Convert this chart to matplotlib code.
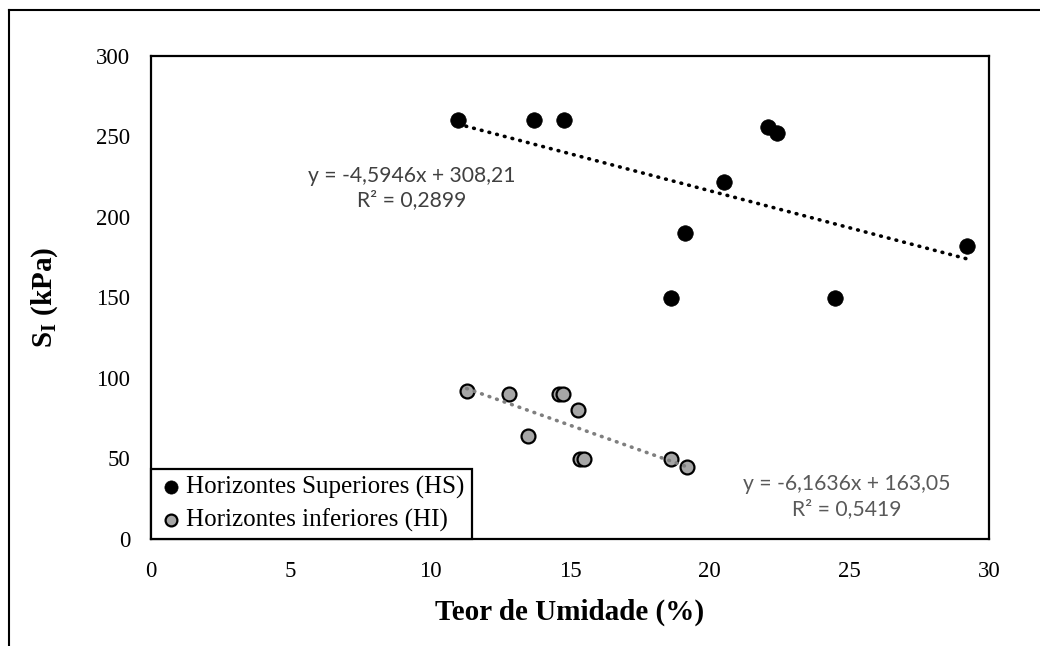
import numpy as np
import matplotlib
matplotlib.use("Agg")
import matplotlib.pyplot as plt
from matplotlib.lines import Line2D

# Horizontes Superiores (HS)
hs_umidade = [11.0, 13.7, 14.8, 22.1, 22.4, 20.5, 19.1, 18.6, 24.5, 29.2]
hs_si = [260, 260, 260, 256, 252, 222, 190, 150, 150, 182]

# Horizontes inferiores (HI)
hi_umidade = [11.3, 12.8, 14.6, 14.75, 15.3, 13.5, 15.35, 15.5, 18.6, 19.2]
hi_si = [92, 90, 90, 90, 80, 64, 50, 50, 50, 45]

x_ticks = [0, 5, 10, 15, 20, 25, 30]
y_ticks = [0, 50, 100, 150, 200, 250, 300]

eq_hs = "y = -4,5946x + 308,21\nR² = 0,2899"
eq_hi = "y = -6,1636x + 163,05\nR² = 0,5419"

serif = "Liberation Serif"
sans = ["Lato", "DejaVu Sans"]

plt.rcParams["mathtext.fontset"] = "custom"
plt.rcParams["mathtext.rm"] = serif
plt.rcParams["mathtext.bf"] = serif + ":bold"
plt.rcParams["mathtext.it"] = serif + ":italic"


def trend(ax, x, y, color):
    # linha de tendencia linear (minimos quadrados)
    a, b = np.polyfit(x, y, 1)
    xs = np.array([min(x), max(x)])
    ax.plot(xs, a * xs + b, linestyle=(0, (0.2, 2.0)), color=color,
            lw=2.6, dash_capstyle="round", zorder=4)


def main():
    fig = plt.figure(figsize=(10.4, 6.46), dpi=100)
    ax = fig.add_axes([151 / 1040, 1 - 539 / 646, 838 / 1040, 483 / 646])

    ax.scatter(hs_umidade, hs_si, s=125, c="black", edgecolors="black",
               linewidths=0.5, label="Horizontes Superiores (HS)", zorder=3)
    ax.scatter(hi_umidade, hi_si, s=100, c="#a6a6a6", edgecolors="black",
               linewidths=1.6, label="Horizontes inferiores (HI)", zorder=3)
    trend(ax, hs_umidade, hs_si, "black")
    trend(ax, hi_umidade, hi_si, "#7f7f7f")

    ax.set_xlim(0, 30)
    ax.set_ylim(0, 300)
    ax.set_xticks(x_ticks)
    ax.set_yticks(y_ticks)
    ax.tick_params(length=0, labelsize=16.5)
    ax.tick_params(axis="y", pad=15)
    ax.tick_params(axis="x", pad=16)
    for lab in ax.get_xticklabels() + ax.get_yticklabels():
        lab.set_fontfamily(serif)
    for sp in ax.spines.values():
        sp.set_linewidth(1.6)
        sp.set_color("black")

    ax.text(9.35, 218, eq_hs, ha="center", va="center", fontsize=15.2,
            color="#404040", family=sans, linespacing=1.3)
    ax.text(24.9, 26.5, eq_hi, ha="center", va="center", fontsize=15.2,
            color="#595959", family=sans, linespacing=1.3)

    ax.set_xlabel("Teor de Umidade (%)", family=serif, fontsize=21,
                  fontweight="bold", labelpad=12)
    ax.set_ylabel(r"$\mathbf{S_I}$ (kPa)", family=serif, fontsize=21,
                  fontweight="bold", labelpad=26)

    leg = ax.legend(loc="lower left", bbox_to_anchor=(0, 0), borderaxespad=0,
                    prop={"family": serif, "size": 18}, fancybox=False,
                    framealpha=1, edgecolor="black", handletextpad=0.1,
                    handlelength=1.0, borderpad=0.3, labelspacing=0.35,
                    markerscale=0.85)
    leg.get_frame().set_linewidth(1.6)

    fig.add_artist(Line2D([9 / 1040, 9 / 1040], [0, 1 - 10 / 646],
                          color="black", lw=1.5))
    fig.add_artist(Line2D([9 / 1040, 1], [1 - 10 / 646, 1 - 10 / 646],
                          color="black", lw=1.5))

    fig.savefig("out.png", dpi=100, facecolor="white")


if __name__ == "__main__":
    main()
